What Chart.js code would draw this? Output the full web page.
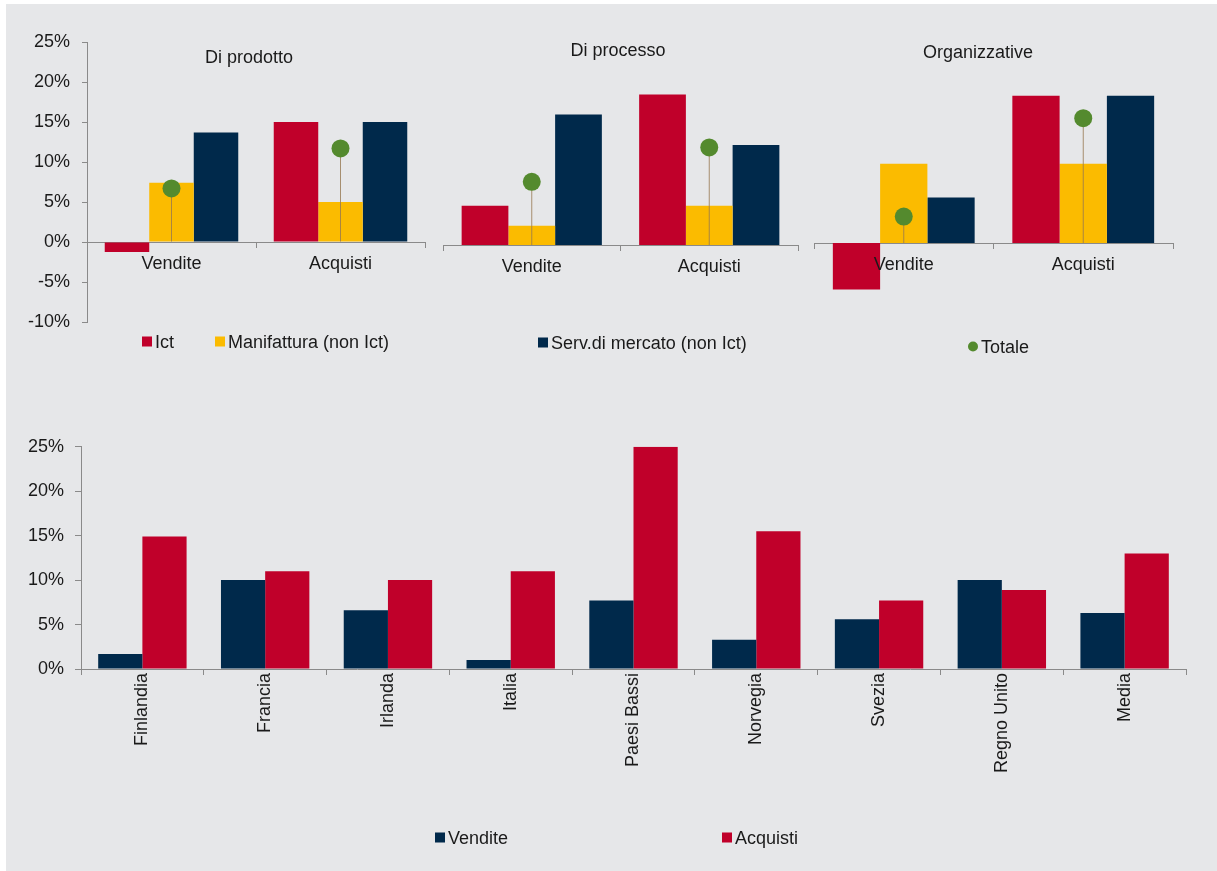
<!DOCTYPE html>
<html>
<head>
<meta charset="utf-8">
<script src="https://cdn.jsdelivr.net/npm/chart.js@4.4.1/dist/chart.umd.min.js"></script>
<style>
body{margin:0;background:#fff;font-family:"Liberation Sans",Arial,sans-serif;color:#1a1a1a;}
#bg{position:absolute;left:6px;top:4px;width:1211px;height:867px;background:#e6e7e9;}
canvas{position:absolute;}
.ttl{position:absolute;font-size:18px;transform:translate(-50%,-50%);white-space:nowrap;}
.leg{position:absolute;font-size:18px;white-space:nowrap;transform:translateY(-50%);}
.leg i{display:inline-block;width:10px;height:10px;margin-right:3px;vertical-align:1px;}
.leg i.dot{border-radius:50%;}
</style>
</head>
<body>
<div id="bg"></div>
<canvas id="p1" width="434" height="345" style="left:0;top:0"></canvas>
<canvas id="p2" width="380" height="340" style="left:430px;top:0"></canvas>
<canvas id="p3" width="412" height="340" style="left:805px;top:0"></canvas>
<canvas id="bottom" width="1217" height="446" style="left:0;top:425px"></canvas>

<div class="ttl" style="left:249px;top:57px">Di prodotto</div>
<div class="ttl" style="left:618px;top:50px">Di processo</div>
<div class="ttl" style="left:978px;top:52px">Organizzative</div>

<div class="leg" style="left:142px;top:342px"><i style="background:#c0002a"></i>Ict</div>
<div class="leg" style="left:215px;top:342px"><i style="background:#fbbb00"></i>Manifattura (non Ict)</div>
<div class="leg" style="left:538px;top:343px"><i style="background:#00294b"></i>Serv.di mercato (non Ict)</div>
<div class="leg" style="left:968px;top:347px"><i class="dot" style="background:#548a2e"></i>Totale</div>

<div class="leg" style="left:435px;top:838px"><i style="background:#00294b"></i>Vendite</div>
<div class="leg" style="left:722px;top:838px"><i style="background:#c0002a"></i>Acquisti</div>

<script>
const tipi=["Vendite","Acquisti"];
const topTicks=[-10,-5,0,5,10,15,20,25];

const ictProdotto=[-1.25,15.0];
const manifProdotto=[7.4,5.0];
const servProdotto=[13.7,15.0];
const totProdotto=[6.7,11.7];

const ictProcesso=[4.9,18.8];
const manifProcesso=[2.4,4.9];
const servProcesso=[16.3,12.5];
const totProcesso=[7.9,12.2];

const ictOrg=[-5.8,18.4];
const manifOrg=[9.9,9.9];
const servOrg=[5.7,18.4];
const totOrg=[3.3,15.6];

const paesi=["Finlandia","Francia","Irlanda","Italia","Paesi Bassi","Norvegia","Svezia","Regno Unito","Media"];
const vendite=[1.7,10.0,6.6,1.0,7.7,3.3,5.6,10.0,6.3];
const acquisti=[14.9,11.0,10.0,11.0,25.0,15.5,7.7,8.9,13.0];
const bottomTicks=[0,5,10,15,20,25];

const RED="#c0002a",YELLOW="#fbbb00",NAVY="#00294b",GREEN="#548a2e",STEM="rgba(150,120,80,0.8)",AXIS="#8a8a8a";

Chart.defaults.font.family='"Liberation Sans", Arial, sans-serif';
Chart.defaults.font.size=18;
Chart.defaults.color="#1a1a1a";

const makePanel=(id,ict,manif,serv,tot,showY,pad)=>{
  const ctx=document.getElementById(id).getContext("2d");
  return new Chart(ctx,{
    type:"bar",
    data:{
      labels:tipi,
      datasets:[
        {type:"line",label:"Totale",data:tot,showLine:false,pointRadius:9,pointHoverRadius:9,
          pointBackgroundColor:GREEN,pointBorderWidth:0,order:1},
        {label:"stem",data:tot.map(v=>[0,v]),grouped:false,maxBarThickness:1,backgroundColor:STEM,order:2},
        {label:"Ict",data:ict,backgroundColor:RED,order:3},
        {label:"Manifattura (non Ict)",data:manif,backgroundColor:YELLOW,order:3},
        {label:"Serv.di mercato (non Ict)",data:serv,backgroundColor:NAVY,order:3}
      ]
    },
    options:{
      responsive:false,
      animation:false,
      layout:{padding:pad},
      categoryPercentage:0.79,
      barPercentage:1,
      plugins:{legend:{display:false},tooltip:{enabled:false}},
      scales:{
        x:{
          position:{y:0},
          grid:{drawOnChartArea:false,tickLength:5,color:AXIS,offset:true},
          border:{color:AXIS},
          ticks:{padding:6,z:1}
        },
        y:{
          display:showY,
          min:-10,max:25,
          afterBuildTicks:s=>{s.ticks=topTicks.map(v=>({value:v}));},
          afterFit:s=>{if(showY)s.width=87;},
          grid:{drawOnChartArea:false,tickLength:5,color:AXIS},
          border:{color:AXIS},
          ticks:{padding:12,callback:v=>v+"%"}
        }
      }
    }
  });
};

makePanel("p1",ictProdotto,manifProdotto,servProdotto,totProdotto,true,{left:0,top:42,right:1,bottom:23});
makePanel("p2",ictProcesso,manifProcesso,servProcesso,totProcesso,false,{left:13,top:45,right:12,bottom:15});
makePanel("p3",ictOrg,manifOrg,servOrg,totOrg,false,{left:7,top:43,right:44,bottom:17});

new Chart(document.getElementById("bottom").getContext("2d"),{
  type:"bar",
  data:{
    labels:paesi,
    datasets:[
      {label:"Vendite",data:vendite,backgroundColor:NAVY},
      {label:"Acquisti",data:acquisti,backgroundColor:RED}
    ]
  },
  options:{
    responsive:false,
    animation:false,
    layout:{padding:{left:0,top:21.7,right:31,bottom:0}},
    categoryPercentage:0.72,
    barPercentage:1,
    plugins:{legend:{display:false},tooltip:{enabled:false}},
    scales:{
      x:{
        afterFit:s=>{s.height=202;},
        grid:{drawOnChartArea:false,tickLength:6,color:AXIS,offset:true},
        border:{color:AXIS},
        ticks:{minRotation:90,maxRotation:90,autoSkip:false,padding:-2}
      },
      y:{
        min:0,max:25,
        afterBuildTicks:s=>{s.ticks=bottomTicks.map(v=>({value:v}));},
        afterFit:s=>{s.width=81;},
        grid:{drawOnChartArea:false,tickLength:6,color:AXIS},
        border:{color:AXIS},
        ticks:{padding:11,callback:v=>v+"%"}
      }
    }
  }
});
</script>
</body>
</html>
